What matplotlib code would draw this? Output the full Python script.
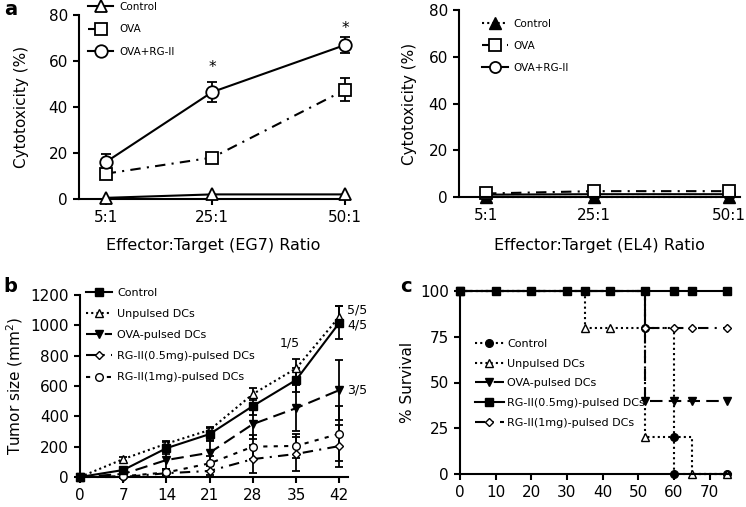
import matplotlib.pyplot as plt

W, H = 746, 507

# panel a: cytotoxicity (%) vs effector:target ratio
ratios = [5, 25, 50]
ratio_labels = ['5:1', '25:1', '50:1']
eg7_control = [0.5, 2, 2]
eg7_ova = [11, 18, 47.5]
eg7_ova_err = [0, 1.5, 5]
eg7_rg = [16, 46.5, 67]
eg7_rg_err = [3.5, 4.5, 3.5]
el4_control = [0.2, 0.2, 0.2]
el4_ova = [1.5, 2.5, 2.5]
el4_rg = [1, 1.2, 1.2]
a_names = ['Control', 'OVA', 'OVA+RG-II']

# panel b: tumor size
days = [0, 7, 14, 21, 28, 35, 42]
tumor_control = [0, 46, 190, 283, 468, 640, 1017]
tumor_control_err = [0, 15, 40, 40, 60, 80, 110]
tumor_unpulsed = [0, 118, 220, 310, 547, 716, 1057]
tumor_unpulsed_err = [0, 15, 20, 20, 40, 60, 70]
tumor_ova = [0, 20, 112, 160, 349, 454, 573]
tumor_ova_err = [0, 20, 60, 80, 100, 150, 200]
tumor_rg05 = [0, 0, 25, 40, 118, 152, 204]
tumor_rg05_err = [0, 5, 20, 30, 90, 110, 140]
tumor_rg1 = [0, 5, 30, 90, 200, 205, 285]
tumor_rg1_err = [0, 5, 20, 50, 80, 80, 180]
group_names = ['Control', 'Unpulsed DCs', 'OVA-pulsed DCs',
               'RG-II(0.5mg)-pulsed DCs', 'RG-II(1mg)-pulsed DCs']
ratio_text = ['5/5', '4/5', '1/5', '3/5']
ratio_text_x = [44.9, 44.9, 34, 44.9]
ratio_text_y = [1100, 1002, 883, 573]

# panel c: survival
surv_control_t = [0, 35, 52, 60, 60, 75]
surv_control = [100, 100, 80, 20, 0, 0]
surv_unpulsed_t = [0, 35, 42, 52, 65, 75]
surv_unpulsed = [100, 80, 80, 20, 0, 0]
surv_ova_t = [0, 52, 60, 65, 75]
surv_ova = [100, 40, 40, 40, 40]
surv_rg05_t = [0, 10, 20, 30, 35, 42, 52, 60, 65, 75]
surv_rg05 = [100, 100, 100, 100, 100, 100, 100, 100, 100, 100]
surv_rg1_t = [0, 52, 60, 65, 75]
surv_rg1 = [100, 80, 80, 80, 80]


def rect(l, t, r, b):
    return [l / W, 1 - b / H, (r - l) / W, (b - t) / H]


def style(ax):
    for s in ['top', 'right']:
        ax.spines[s].set_visible(False)
    for s in ['left', 'bottom']:
        ax.spines[s].set_linewidth(1.5)
    ax.tick_params(direction='out', length=4, width=1.5, labelsize=11, pad=4)


def leg(ax, x, y, fs, ls, hl, pad):
    ax.legend(loc='upper left', bbox_to_anchor=(x / W, 1 - y / H),
              bbox_transform=fig.transFigure, frameon=False, fontsize=fs,
              labelspacing=ls, handlelength=hl, handletextpad=pad,
              borderpad=0, borderaxespad=0)


def bars(ax, x, y, err, cap):
    ax.errorbar(x, y, yerr=err, fmt='none', ecolor='k', elinewidth=1.3,
                capsize=cap, capthick=1.3, zorder=2, clip_on=False)


fig = plt.figure(figsize=(W / 100, H / 100), dpi=100)

dashdot = (0, (5, 3, 1, 3))
dotted = (0, (1, 1.5))
longdash = (0, (6, 3))
shortdash = (0, (2, 3))
lw = 1.5

# ---------------- panel a left
ax = fig.add_axes(rect(79, 15, 348, 199))
style(ax)
bars(ax, ratios, eg7_ova, eg7_ova_err, 3.5)
bars(ax, ratios, eg7_rg, eg7_rg_err, 3.5)
ax.plot(ratios, eg7_control, '-', marker='^', ms=8, mfc='white', mec='k', mew=1.3,
        color='k', lw=lw, label=a_names[0], clip_on=False, zorder=3)
ax.plot(ratios, eg7_ova, linestyle=dashdot, marker='s', ms=9, mfc='white', mec='k',
        mew=1.3, color='k', lw=lw, label=a_names[1], clip_on=False, zorder=3)
ax.plot(ratios, eg7_rg, '-', marker='o', ms=9, mfc='white', mec='k', mew=1.3,
        color='k', lw=lw, label=a_names[2], clip_on=False, zorder=3)
ax.text(25, 55, '*', ha='center', fontsize=11)
ax.text(50, 72, '*', ha='center', fontsize=11)
ax.set_xlim(0, 50.5)
ax.set_ylim(0, 80)
ax.set_xticks(ratios)
ax.set_xticklabels(ratio_labels)
ax.set_yticks([0, 20, 40, 60, 80])
ax.set_ylabel('Cytotoxicity (%)', fontsize=11)
ax.yaxis.set_label_coords(-0.185, 0.5)
ax.set_xlabel('Effector:Target (EG7) Ratio', fontsize=11.5)
ax.xaxis.set_label_coords(0.5, -0.21)
leg(ax, 88, 2, 7.5, 1.2, 2.4, 0.6)

# ---------------- panel a right
ax = fig.add_axes(rect(459, 10, 740, 197))
style(ax)
ax.plot(ratios, el4_control, linestyle=dotted, marker='^', ms=8, color='k', lw=lw,
        label=a_names[0], clip_on=False)
ax.plot(ratios, el4_ova, linestyle=dashdot, marker='s', ms=9, mfc='white', mec='k',
        mew=1.3, color='k', lw=lw, label=a_names[1], clip_on=False)
ax.plot(ratios, el4_rg, '-', marker='o', ms=8, mfc='white', mec='k', mew=1.3,
        color='k', lw=lw, label=a_names[2], clip_on=False, zorder=1)
ax.set_xlim(0, 52)
ax.set_ylim(0, 80)
ax.set_xticks(ratios)
ax.set_xticklabels(ratio_labels)
ax.set_yticks([0, 20, 40, 60, 80])
ax.set_ylabel('Cytotoxicity (%)', fontsize=11)
ax.yaxis.set_label_coords(-0.15, 0.5)
ax.set_xlabel('Effector:Target (EL4) Ratio', fontsize=11.5)
ax.xaxis.set_label_coords(0.5, -0.22)
leg(ax, 482, 19, 7.5, 1.15, 2.5, 0.5)

# ---------------- panel b
ax = fig.add_axes(rect(80, 295, 348, 477))
style(ax)
for vals, errs in [(tumor_control, tumor_control_err), (tumor_unpulsed, tumor_unpulsed_err),
                   (tumor_ova, tumor_ova_err), (tumor_rg05, tumor_rg05_err),
                   (tumor_rg1, tumor_rg1_err)]:
    bars(ax, days, vals, errs, 3)
kw = dict(color='k', lw=lw, ms=5.5, clip_on=False)
ax.plot(days, tumor_control, '-', marker='s', label=group_names[0], zorder=5, **kw)
ax.plot(days, tumor_unpulsed, linestyle=dotted, marker='^', mfc='white', mec='k',
        label=group_names[1], zorder=4, **kw)
ax.plot(days, tumor_ova, linestyle=longdash, marker='v', label=group_names[2], zorder=3, **kw)
ax.plot(days, tumor_rg05, linestyle=dashdot, marker='D', mfc='white', mec='k',
        label=group_names[3], zorder=3, **dict(kw, ms=4.5))
ax.plot(days, tumor_rg1, linestyle=shortdash, marker='o', mfc='white', mec='k',
        label=group_names[4], zorder=3, **kw)
for t, x, y in zip(ratio_text, ratio_text_x, ratio_text_y):
    ax.text(x, y, t, ha='center', va='center', fontsize=9, clip_on=False)
ax.set_xlim(0, 43.4)
ax.set_ylim(0, 1200)
ax.set_xticks(days)
ax.set_yticks(range(0, 1201, 200))
ax.set_ylabel('Tumor size (mm$^2$)', fontsize=11)
ax.yaxis.set_label_coords(-0.205, 0.5)
leg(ax, 86, 288, 8, 1.0, 2.35, 0.45)

# ---------------- panel c
ax = fig.add_axes(rect(460, 291, 731, 474))
style(ax)
kw = dict(color='k', lw=lw, ms=5.5, drawstyle='steps-post', clip_on=False)
ax.plot(surv_control_t, surv_control, linestyle=dotted, marker='o',
        label=group_names[0], **kw)
ax.plot(surv_unpulsed_t, surv_unpulsed, linestyle=dotted, marker='^', mfc='white',
        mec='k', label=group_names[1], **kw)
ax.plot(surv_ova_t, surv_ova, linestyle=longdash, marker='v', label=group_names[2], **kw)
ax.plot(surv_rg05_t, surv_rg05, '-', marker='s', label=group_names[3], zorder=5, **kw)
ax.plot(surv_rg1_t, surv_rg1, linestyle=dashdot, marker='D', mfc='white', mec='k',
        label=group_names[4], **dict(kw, ms=4.5))
ax.set_xlim(0, 76)
ax.set_ylim(0, 100)
ax.set_xticks(range(0, 71, 10))
ax.set_yticks([0, 25, 50, 75, 100])
ax.set_ylabel('% Survival', fontsize=11)
ax.yaxis.set_label_coords(-0.165, 0.5)
leg(ax, 475, 339, 8, 0.87, 2.6, 0.3)

# panel letters
fig.text(4 / W, 1 - 15 / H, 'a', fontsize=14, fontweight='bold', va='baseline')
fig.text(3 / W, 1 - 292 / H, 'b', fontsize=14, fontweight='bold', va='baseline')
fig.text(400 / W, 1 - 292 / H, 'c', fontsize=14, fontweight='bold', va='baseline')

fig.savefig('out.png', dpi=100)
